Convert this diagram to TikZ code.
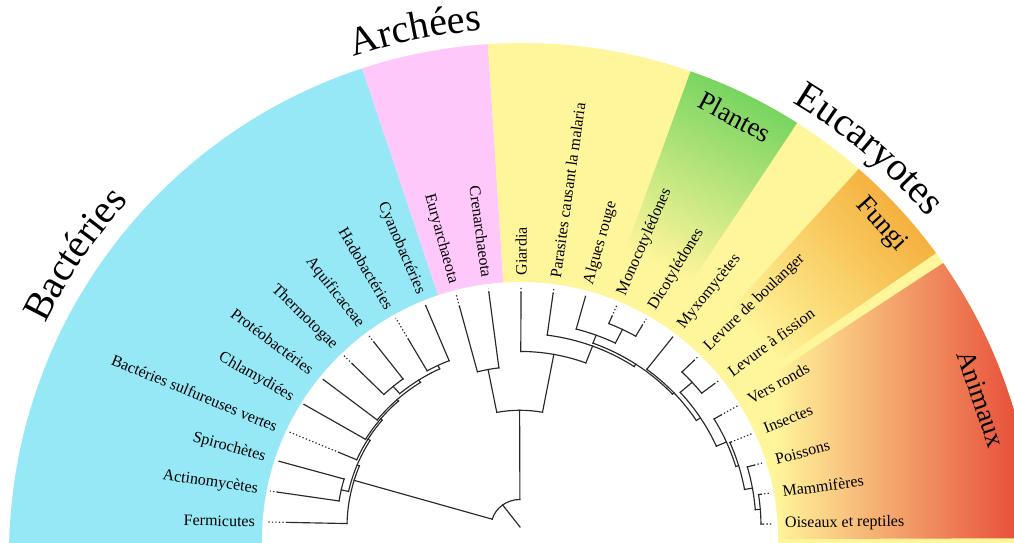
\documentclass[tikz,border=0pt]{standalone}
\usepackage{fontspec}
\setmainfont{Liberation Serif}
\usetikzlibrary{decorations.text}

\definecolor{bactblue}{RGB}{151,232,247}
\definecolor{archpink}{RGB}{254,200,251}
\definecolor{eukyellow}{RGB}{255,245,155}
\definecolor{plantgreen}{RGB}{96,207,86}
\definecolor{fungorange}{RGB}{243,166,48}
\definecolor{animred}{RGB}{232,82,60}
\definecolor{branchgray}{RGB}{40,40,40}

% tree helpers (used inside the polar tree scope)
% internal node: name, angle, radius, parent radius, arc from, arc to
\newcommand\tnode[6]{%
  \draw[branch] (#2:#4) -- (#2:#3) coordinate (#1);
  \draw[branch] (#5:#3) arc[start angle=#5, end angle=#6, radius=#3];
}
% leaf: name, angle, base radius, end of solid part
\newcommand\tleaf[4]{%
  \draw[branch] (#2:#3) -- (#2:#4);
  \draw[tipdots] (#2:#4) -- (#2:253) coordinate (#1);
}
% leaf labels, right half and left half
\newcommand\labR[3]{\node[leaftext, anchor=west, rotate={atan2(0.949*sin(#2),cos(#2))}] (#1) at (#2:265) {#3};}
\newcommand\labL[3]{\node[leaftext, anchor=east, rotate={atan2(0.949*sin(#2),cos(#2))-180}] (#1) at (#2:265) {#3};}

\begin{document}
\begin{tikzpicture}[x=1pt,y=1pt,
  branch/.style={draw=branchgray, line width=1.15pt, line cap=rect},
  tipdots/.style={draw=branchgray, line width=1.15pt, dash pattern=on 1.3pt off 2.2pt},
  leaftext/.style={font=\fontsize{16}{19}\selectfont, inner sep=0pt, text=black},
  sublabel/.style={font=\fontsize{27}{32}\selectfont, inner sep=0pt, text=black}]
\useasboundingbox (0,0) rectangle (1014,543);
\clip (0,0) rectangle (1014,543);

\coordinate (ring) at (520,3);
\coordinate (rim) at (522,-13);

% coloured sectors of the annulus
\begin{scope}
  \clip (rim) circle (513);
  \fill[bactblue] (ring) -- ([shift={(108.5:700)}]ring) arc[start angle=108.5, end angle=200, radius=700] -- cycle;
  \fill[archpink] (ring) -- ([shift={(93.7:700)}]ring) arc[start angle=93.7, end angle=108.5, radius=700] -- cycle;
  \fill[eukyellow] (ring) -- ([shift={(-20:700)}]ring) arc[start angle=-20, end angle=93.7, radius=700] -- cycle;
  % plants
  \shade[bottom color=eukyellow, top color=plantgreen, shading angle=-27]
    ([shift={(56.4:300)}]ring) -- ([shift={(56.4:525)}]ring) -- ([shift={(70:525)}]ring) -- ([shift={(70:300)}]ring) -- cycle;
  % fungi
  \shade[bottom color=eukyellow, top color=fungorange, shading angle=-49]
    ([shift={(34.6:300)}]ring) -- ([shift={(34.6:525)}]ring) -- ([shift={(47.6:525)}]ring) -- ([shift={(47.6:300)}]ring) -- cycle;
  % animals
  \begin{scope}
    \clip (ring) -- ([shift={(0.2:700)}]ring) arc[start angle=0.2, end angle=33.2, radius=700] -- cycle;
    \shade[left color=eukyellow, right color=animred] (775,0) rectangle (1014,400);
  \end{scope}
\end{scope}
\fill[white] (ring) circle (258);

% group names along the rim
\path[decorate, decoration={text along path, text align=center,
  text={|\fontsize{40}{48}\selectfont|Bactéries}}]
  ([shift={(162:530)}]rim) arc[start angle=162, end angle=130, radius=530];
\path[decorate, decoration={text along path, text align=center,
  text={|\fontsize{40}{48}\selectfont|Archées}}]
  ([shift={(116:527)}]rim) arc[start angle=116, end angle=87, radius=527];
\path[decorate, decoration={text along path, text align=center,
  text={|\fontsize{40}{48}\selectfont|Eucaryotes}}]
  ([shift={(66:528)}]rim) arc[start angle=66, end angle=33, radius=528];

\node[sublabel, rotate=-28] (plantes) at (735,426) {Plantes};
\node[sublabel, rotate=-48] (fungi) at (881,318) {Fungi};
\node[sublabel, rotate=-71] (animaux) at (981,144) {Animaux};

% the tree, drawn in polar form on a slightly flattened circle
\begin{scope}[shift={(520,16)}, yscale=0.949]
  \coordinate (origin) at (0,0);
  \draw[branch] (origin) -- (126.8:29) coordinate (root);
  \draw[branch] (163.5:29) arc[start angle=163.5, end angle=90.18, radius=29];

  % bacteria
  \tnode{B1}{163.5}{173}{29}{178.8}{158.16}
  \tnode{B2}{158.16}{175.5}{173}{167.67}{148.66}
  \tnode{AS}{167.67}{183}{175.5}{171.38}{163.96}
  \tnode{B3}{148.66}{178}{175.5}{156.54}{140.78}
  \tnode{B4}{140.78}{180}{178}{149.12}{132.43}
  \tnode{B5}{132.43}{182}{180}{141.7}{123.15}
  \tnode{B6}{123.15}{185}{182}{130.57}{115.73}
  \tnode{TA}{130.57}{195}{185}{134.28}{126.86}
  \tnode{HC}{115.73}{189}{185}{119.44}{112.02}
  \tleaf{l0}{178.8}{173}{233}
  \tleaf{l1}{171.38}{183}{245}
  \tleaf{l2}{163.96}{183}{250}
  \tleaf{l3}{156.54}{178}{197}
  \tleaf{l4}{149.12}{180}{251}
  \tleaf{l5}{141.7}{182}{250}
  \tleaf{l6}{134.28}{195}{240}
  \tleaf{l7}{126.86}{195}{243}
  \tleaf{l8}{119.44}{189}{227}
  \tleaf{l9}{112.02}{189}{251}

  % archaea + eukaryotes
  \tnode{AE}{90.18}{123}{29}{100.89}{79.46}
  \tnode{A}{100.89}{169}{123}{104.6}{97.18}
  \tleaf{l10}{104.6}{169}{240}
  \tleaf{l11}{97.18}{169}{249}

  \tnode{E1}{79.46}{185}{123}{89.76}{69.16}
  \tnode{E2}{69.16}{204}{185}{82.34}{55.97}
  \tnode{E3}{55.97}{207}{204}{69.36}{42.58}
  \tnode{AMD}{69.36}{216}{207}{74.92}{63.79}
  \tnode{MD}{63.79}{232}{216}{67.5}{60.08}
  \tnode{E4}{42.58}{209}{207}{52.66}{32.49}
  \tnode{FA}{32.49}{214}{209}{41.53}{23.45}
  \tnode{LL}{41.53}{230}{214}{45.24}{37.82}
  \tnode{An}{23.45}{225}{214}{30.4}{16.49}
  \tnode{IPMO}{16.49}{228}{225}{22.98}{10}
  \tnode{PMO}{10}{236}{228}{15.56}{4.43}
  \tnode{MO}{4.43}{241}{236}{8.14}{0.72}
  \tleaf{l12}{89.76}{185}{247}
  \tleaf{l13}{82.34}{204}{248}
  \tleaf{l14}{74.92}{216}{251}
  \tleaf{l15}{67.5}{232}{240}
  \tleaf{l16}{60.08}{232}{245}
  \tleaf{l17}{52.66}{209}{251}
  \tleaf{l18}{45.24}{230}{247}
  \tleaf{l19}{37.82}{230}{246}
  \tleaf{l20}{30.4}{225}{233}
  \tleaf{l21}{22.98}{228}{229}
  \tleaf{l22}{15.56}{236}{243}
  \tleaf{l23}{8.14}{241}{243}
  \tleaf{l24}{0.72}{241}{243}

  % leaf names
  \labL{t0}{178.8}{Fermicutes}
  \labL{t1}{171.38}{Actinomycètes}
  \labL{t2}{163.96}{Spirochètes}
  \labL{t3}{156.54}{Bactéries sulfureuses vertes}
  \labL{t4}{149.12}{Chlamydiées}
  \labL{t5}{141.7}{Protéobactéries}
  \labL{t6}{134.28}{Thermotogae}
  \labL{t7}{126.86}{Aquificaceae}
  \labL{t8}{119.44}{Hadobactéries}
  \labL{t9}{112.02}{Cyanobactéries}
  \labL{t10}{104.6}{Euryarchaeota}
  \labL{t11}{97.18}{Crenarchaeota}
  \labR{t12}{89.76}{Giardia}
  \labR{t13}{82.34}{Parasites causant la malaria}
  \labR{t14}{74.92}{Algues rouge}
  \labR{t15}{67.5}{Monocotylédones}
  \labR{t16}{60.08}{Dicotylédones}
  \labR{t17}{52.66}{Myxomycètes}
  \labR{t18}{45.24}{Levure de boulanger}
  \labR{t19}{37.82}{Levure à fission}
  \labR{t20}{30.4}{Vers ronds}
  \labR{t21}{22.98}{Insectes}
  \labR{t22}{15.56}{Poissons}
  \labR{t23}{8.14}{Mammifères}
  \labR{t24}{0.72}{Oiseaux et reptiles}
\end{scope}
\end{tikzpicture}
\end{document}
